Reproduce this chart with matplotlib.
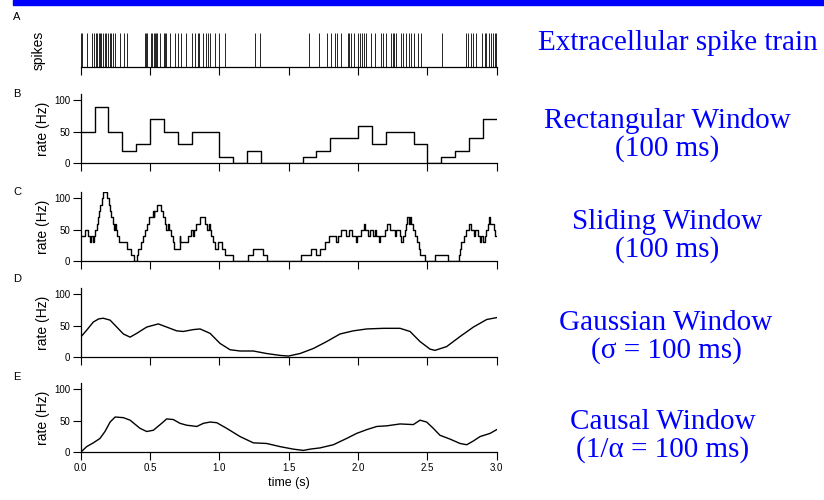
import matplotlib
matplotlib.use("Agg")
import matplotlib.pyplot as plt
from matplotlib.patches import Rectangle
import numpy as np

# spike times (s)
spike_times = [0.002, 0.010, 0.048, 0.082, 0.094,
               0.113, 0.120, 0.130, 0.137, 0.144, 0.161, 0.173, 0.180, 0.197,
               0.209, 0.221, 0.231, 0.245, 0.281,
               0.310, 0.337,
               0.462, 0.474, 0.481,
               0.505, 0.514, 0.530, 0.538, 0.546, 0.553, 0.570,
               0.601, 0.611, 0.618, 0.642, 0.678,
               0.705, 0.726, 0.762,
               0.805, 0.822, 0.846, 0.853, 0.882,
               0.905, 0.918, 0.935, 0.966, 0.995,
               1.043,
               1.260, 1.290,
               1.647,
               1.716, 1.779,
               1.808, 1.837, 1.849, 1.875,
               1.928, 1.935, 1.947, 1.971,
               2.003, 2.012, 2.029, 2.043, 2.060, 2.091,
               2.125, 2.163, 2.180,
               2.204, 2.240, 2.250, 2.260, 2.276,
               2.312, 2.325, 2.349, 2.365, 2.385,
               2.404, 2.433, 2.455,
               2.606,
               2.781, 2.793,
               2.817, 2.829, 2.853, 2.894,
               2.913, 2.925, 2.942, 2.957, 2.974, 2.986, 2.998]

# panel B: rectangular window, 100 ms bins
rect_edges = [0.0, 0.1, 0.2, 0.3, 0.4, 0.5, 0.6, 0.7, 0.8, 0.9, 1.0,
              1.1, 1.2, 1.3, 1.4, 1.5, 1.6, 1.7, 1.8, 1.9, 2.0,
              2.1, 2.2, 2.3, 2.4, 2.5, 2.6, 2.7, 2.8, 2.9, 3.0]
rect_rate = [50, 90, 50, 20, 30, 70, 50, 30, 50, 50,
             10, 0, 20, 0, 0, 0, 10, 20, 40, 40,
             60, 30, 50, 50, 30, 0, 10, 20, 40, 70]

# panel C: sliding window, value changes (time, rate)
slide_t = [0.000, 0.034, 0.053, 0.065, 0.077, 0.087, 0.096, 0.106, 0.115, 0.125,
           0.132, 0.142, 0.151, 0.161, 0.192, 0.202, 0.212, 0.221, 0.231, 0.240,
           0.250, 0.255, 0.264, 0.279, 0.337, 0.361, 0.385, 0.404, 0.416, 0.433,
           0.447, 0.464, 0.481, 0.493, 0.522, 0.527, 0.532, 0.553, 0.582, 0.594,
           0.606, 0.618, 0.630, 0.637, 0.654, 0.666, 0.673, 0.714, 0.719, 0.774,
           0.798, 0.808, 0.817, 0.834, 0.858, 0.899, 0.913, 0.923, 0.930, 0.942,
           0.954, 0.966, 0.990, 1.019, 1.043, 1.099, 1.207, 1.243, 1.315, 1.346,
           1.591, 1.663, 1.700, 1.724, 1.765, 1.790, 1.844, 1.858, 1.875, 1.911,
           1.935, 1.960, 1.983, 1.995, 2.024, 2.041, 2.053, 2.072, 2.084, 2.108,
           2.125, 2.132, 2.149, 2.161, 2.192, 2.209, 2.228, 2.264, 2.276, 2.300,
           2.312, 2.325, 2.337, 2.349, 2.356, 2.365, 2.373, 2.385, 2.397, 2.413,
           2.425, 2.437, 2.450, 2.481, 2.553, 2.649, 2.728, 2.733, 2.745, 2.764,
           2.781, 2.798, 2.817, 2.834, 2.846, 2.865, 2.877, 2.889, 2.901, 2.913,
           2.925, 2.938, 2.945, 2.954, 2.978, 2.990, 3.000]
slide_rate = [40, 50, 40, 30, 40, 30, 40, 50, 60, 70,
              80, 90, 100, 110, 100, 90, 80, 70, 60, 50,
              60, 50, 40, 30, 20, 10, 0, 10, 20, 30,
              40, 50, 60, 70, 80, 70, 80, 90, 80, 70,
              60, 50, 60, 50, 40, 30, 20, 40, 30, 40,
              50, 40, 50, 60, 70, 60, 50, 60, 50, 40,
              30, 20, 30, 20, 10, 0, 10, 20, 10, 0,
              10, 20, 10, 20, 30, 40, 30, 40, 50, 40,
              50, 40, 30, 40, 50, 60, 50, 40, 50, 40,
              50, 40, 30, 40, 50, 60, 50, 40, 50, 40,
              30, 40, 50, 60, 70, 60, 70, 60, 50, 40,
              30, 20, 10, 0, 10, 0, 10, 20, 30, 40,
              50, 60, 50, 40, 50, 40, 30, 40, 30, 40,
              50, 60, 70, 60, 50, 40, 40]

# panel D: gaussian window
gauss_t = [0.0, 0.004, 0.043, 0.091, 0.130, 0.163, 0.212, 0.260, 0.308, 0.356,
           0.404, 0.476, 0.560, 0.620, 0.692, 0.740, 0.813, 0.861, 0.933, 1.005,
           1.077, 1.149, 1.245, 1.341, 1.438, 1.498, 1.582, 1.678, 1.774, 1.870,
           1.966, 2.063, 2.183, 2.303, 2.375, 2.447, 2.519, 2.555, 2.639, 2.736,
           2.832, 2.928, 3.0]
gauss_rate = [18, 33, 43, 56, 61, 62, 59, 48, 37, 32,
              38, 48, 53, 48, 42, 41, 44, 45, 38, 22,
              12, 10, 10, 6, 3, 2, 6, 14, 25, 37,
              42, 45, 46, 46, 41, 25, 13, 11, 17, 33,
              48, 60, 63]

# panel E: causal window
causal_t = [0.0, 0.043, 0.091, 0.139, 0.175, 0.212, 0.248, 0.308, 0.356, 0.428,
            0.476, 0.524, 0.584, 0.620, 0.668, 0.716, 0.764, 0.837, 0.885, 0.933,
            0.981, 1.053, 1.149, 1.245, 1.341, 1.438, 1.534, 1.606, 1.654, 1.726,
            1.822, 1.918, 1.990, 2.063, 2.135, 2.207, 2.303, 2.399, 2.447, 2.495,
            2.543, 2.591, 2.663, 2.736, 2.784, 2.832, 2.880, 2.952, 3.0]
causal_rate = [0, 9, 15, 22, 33, 48, 56, 55, 51, 38,
               33, 35, 46, 53, 52, 46, 43, 41, 46, 48,
               47, 38, 25, 15, 14, 9, 5, 3, 5, 7,
               12, 22, 30, 36, 41, 42, 45, 44, 51, 48,
               38, 27, 21, 14, 12, 18, 25, 30, 36]

panel_letters = ["A", "B", "C", "D", "E"]
titles = ["Extracellular spike train",
          "Rectangular Window\n(100 ms)",
          "Sliding Window\n(100 ms)",
          "Gaussian Window\n(\u03c3 = 100 ms)",
          "Causal Window\n(1/\u03b1 = 100 ms)"]

W, H = 824, 500
fig = plt.figure(figsize=(W / 100, H / 100), dpi=100)
plt.rcParams['font.family'] = ['Liberation Sans', 'DejaVu Sans']

blue = "#0000ff"
fig.patches.append(Rectangle((13 / W, 1 - 4.5 / H), 1, 4.5 / H,
                             transform=fig.transFigure, color=blue, zorder=0))

x0, x1 = 80.7, 496.7
# (top px, bottom px) of each panel
boxes = [(33, 67), (94, 163.3), (192, 261.3), (288, 357.3), (383, 452.3)]
letter_y = [17, 94, 192, 279, 377]
title_xy = [(678, 43), (667, 135), (667, 236), (666, 337), (663, 436)]

axes = []
for top, bot in boxes:
    ax = fig.add_axes([x0 / W, 1 - bot / H, (x1 - x0) / W, (bot - top) / H])
    axes.append(ax)

for i, ax in enumerate(axes):
    ax.set_xlim(0, 3.0)
    for s in ["top", "right"]:
        ax.spines[s].set_visible(False)
    ax.spines["bottom"].set_linewidth(0.9)
    ax.spines["left"].set_linewidth(0.9)
    ax.set_xticks([0, 0.5, 1.0, 1.5, 2.0, 2.5, 3.0])
    ax.tick_params(axis="both", direction="out", length=5.5, width=0.8,
                   labelsize=7, pad=2)
    if i < 4:
        ax.set_xticklabels([])
    fig.text(17 / W, 1 - letter_y[i] / H, panel_letters[i], fontsize=8,
             ha="center", va="center")
    tx, ty = title_xy[i]
    fig.text(tx / W, 1 - ty / H, titles[i], color=blue,
             family="Liberation Serif", fontsize=21, ha="center",
             va="center", multialignment="center", linespacing=1.08)

# A: spikes
ax = axes[0]
ax.vlines(spike_times, 0, 1, color="black", linewidth=0.6)
ax.set_ylim(0, 1)
ax.spines["left"].set_visible(False)
ax.set_yticks([])
ax.set_ylabel("spikes", fontsize=10, labelpad=25)

# B to E: rates
axes[1].step(rect_edges, rect_rate + [rect_rate[-1]], where="post",
             color="black", linewidth=1.0)
axes[2].step(slide_t, slide_rate, where="post", color="black", linewidth=1.0)
axes[3].plot(gauss_t, gauss_rate, color="black", linewidth=1.0)
axes[4].plot(causal_t, causal_rate, color="black", linewidth=1.0)

for ax in axes[1:]:
    ax.set_ylim(0, 110)
    ax.set_yticks([0, 50, 100])
    ax.set_ylabel("rate (Hz)", fontsize=10, labelpad=3)

axes[4].set_xticklabels(["0.0", "0.5", "1.0", "1.5", "2.0", "2.5", "3.0"])
axes[4].set_xlabel("time (s)", fontsize=9, labelpad=3)

fig.savefig("out.png", dpi=100)
